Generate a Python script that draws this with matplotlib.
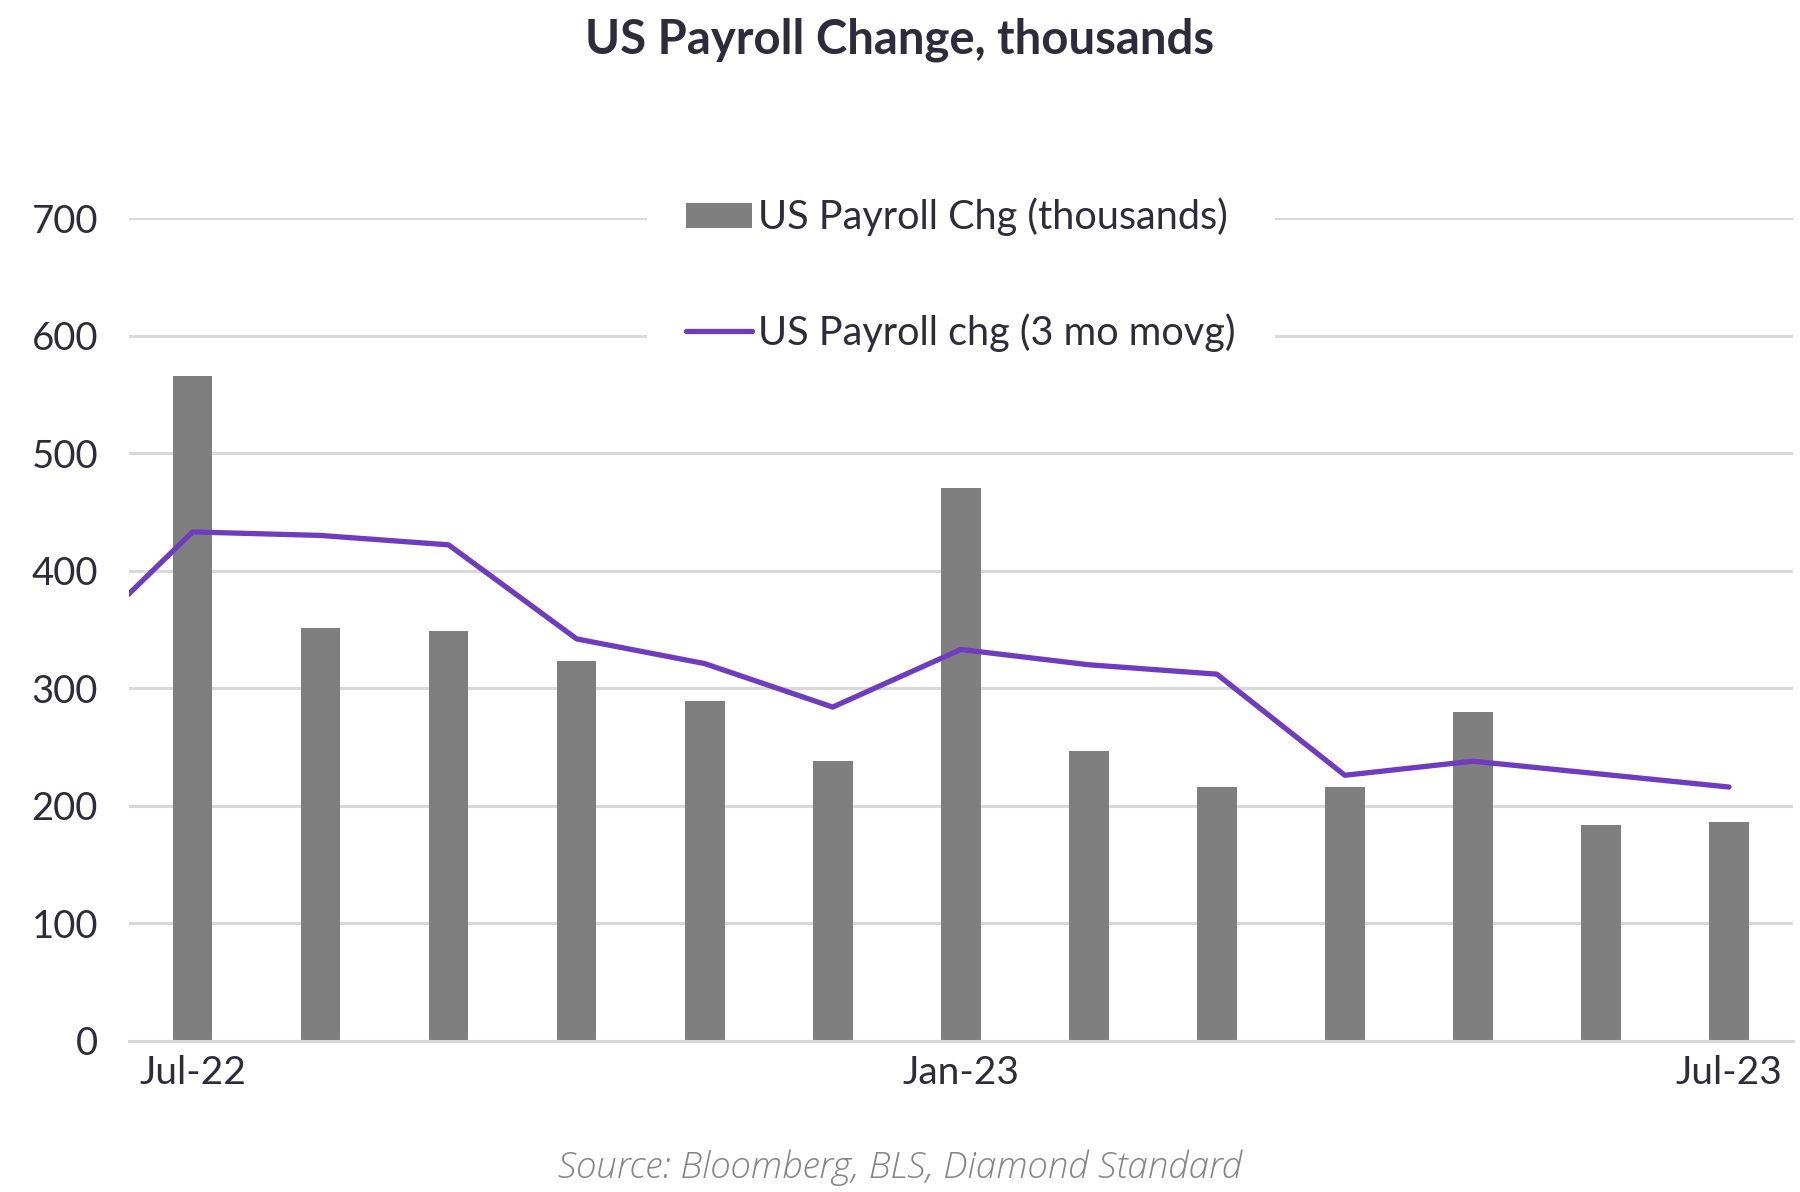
import numpy as np
import matplotlib
matplotlib.use('Agg')
import matplotlib.pyplot as plt

# data (thousands)
months = ['Jul-22', 'Aug-22', 'Sep-22', 'Oct-22', 'Nov-22', 'Dec-22', 'Jan-23',
          'Feb-23', 'Mar-23', 'Apr-23', 'May-23', 'Jun-23', 'Jul-23']
payroll_chg = [566, 351, 349, 323, 289, 238, 470, 247, 216, 216, 280, 184, 186]
# 3 month moving average, first value is Jun-22 (falls just left of the axis)
ma_months = ['Jun-22'] + months
payroll_ma = [327, 433, 430, 422, 342, 321, 284, 333, 320, 312, 226, 238, 227, 216]
tick_labels = ['Jul-22', 'Jan-23', 'Jul-23']

TEXT = '#2e2c3a'
GRID = '#d9d9d9'
BAR = '#7f7f7f'
LINE = '#6f3cc0'

plt.rcParams['font.family'] = ['Lato', 'DejaVu Sans']

fig = plt.figure(figsize=(18, 11.92), dpi=100)
ax = fig.add_axes([0.0714, 0.1267, 0.9247, 0.6904])

x = np.arange(len(months))
x_ma = np.arange(len(ma_months)) - 1

bars = ax.bar(x, payroll_chg, width=0.31, color=BAR, label='US Payroll Chg (thousands)', zorder=2)
line, = ax.plot(x_ma, payroll_ma, color=LINE, lw=3.8, solid_capstyle='round',
                label='US Payroll chg (3 mo movg)', zorder=3)

ax.set_xlim(-0.5, 12.5)
ax.set_ylim(0, 700)
ax.set_yticks(range(0, 701, 100))
ax.yaxis.grid(True, color=GRID, lw=2.2)
ax.set_axisbelow(True)

ax.set_xticks([months.index(m) for m in tick_labels])
ax.set_xticklabels(tick_labels)

for s in ['top', 'right', 'left']:
    ax.spines[s].set_visible(False)
ax.spines['bottom'].set_color(GRID)
ax.spines['bottom'].set_linewidth(2.2)

ax.tick_params(axis='y', length=0, pad=22, labelsize=27.5, labelcolor=TEXT)
ax.tick_params(axis='x', length=0, pad=10, labelsize=28, labelcolor=TEXT)

leg = ax.legend([bars, line], [bars.get_label(), line.get_label()],
                loc='upper center', bbox_to_anchor=(0.5, 1.073), fontsize=28.5,
                frameon=True, fancybox=False, framealpha=1,
                handlelength=1.65, handleheight=0.6, handletextpad=0.15,
                labelspacing=1.94, borderpad=1.0, borderaxespad=0)
leg.get_frame().set_facecolor('white')
leg.get_frame().set_edgecolor('none')
for t in leg.get_texts():
    t.set_color(TEXT)

fig.text(0.5, 0.967, 'US Payroll Change, thousands', ha='center', va='center',
         fontsize=34, fontweight='bold', color=TEXT)
fig.text(0.5, 0.0205, 'Source: Bloomberg, BLS, Diamond Standard', ha='center', va='center',
         fontsize=26.5, style='italic', fontweight='light', color='#858585',
         family=['Open Sans', 'DejaVu Sans'])

fig.savefig('out.png', dpi=100, facecolor='white')
